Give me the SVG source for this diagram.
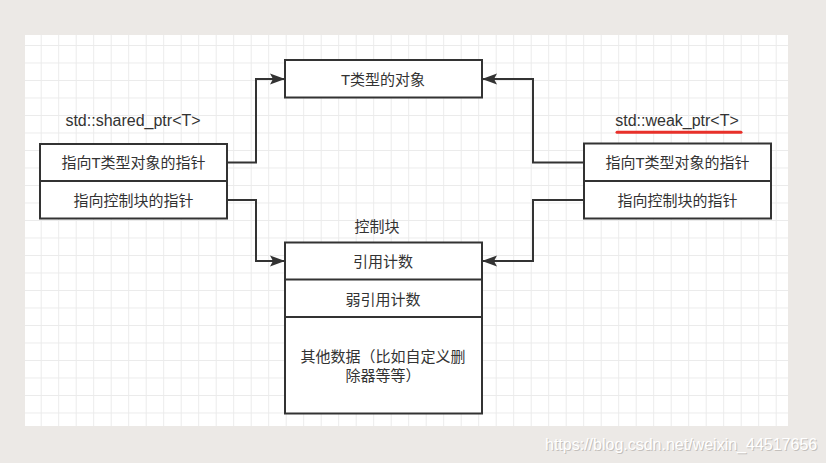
<svg xmlns="http://www.w3.org/2000/svg" width="826" height="463" viewBox="0 0 826 463">
<style>
.box{fill:#ffffff;stroke:#333333;stroke-width:2}
.div{stroke:#333333;stroke-width:2;fill:none}
.conn{fill:none;stroke:#333333;stroke-width:2}
.t{font-family:"Liberation Sans","Noto Sans CJK SC",sans-serif;font-size:15px;fill:#333333;text-anchor:middle}
.lbl{font-size:16px}
.wm{font-family:"Liberation Sans","Noto Sans",sans-serif;font-size:16px}
</style>
<defs>
<pattern id="grid" patternUnits="userSpaceOnUse" x="40.7" y="45" width="17.5" height="17.5">
<path d="M0.5,0 V17.5 M0,0.5 H17.5" stroke="#ebebeb" stroke-width="1" fill="none"/>
</pattern>
<marker id="arr" markerUnits="userSpaceOnUse" markerWidth="16" markerHeight="12" refX="15" refY="6" orient="auto">
<path d="M0,0.5 L15,6 L0,11.5 L3,6 Z" fill="#333333"/>
</marker>
</defs>
<rect x="0" y="0" width="826" height="463" fill="#ece9e6"/>
<rect x="25" y="35" width="763" height="391" fill="#ffffff"/>
<rect x="25" y="35" width="763" height="391" fill="url(#grid)"/>

<g id="connectors">
<path class="conn" d="M227,162.5 H256 V79 H285" marker-end="url(#arr)"/>
<path class="conn" d="M227,200 H256 V261 H285" marker-end="url(#arr)"/>
<path class="conn" d="M584,162.5 H533 V79 H482" marker-end="url(#arr)"/>
<path class="conn" d="M584,200 H533 V261 H482" marker-end="url(#arr)"/>
</g>

<g id="t-object">
<rect class="box" x="285" y="60" width="197" height="37.5"/>
<text class="t" x="383" y="84.5">T类型的对象</text>
</g>

<g id="shared-ptr">
<text class="t lbl" x="133" y="126">std::shared_ptr&lt;T&gt;</text>
<rect class="box" x="40" y="144" width="187" height="74.5"/>
<path class="div" d="M40,181 H227"/>
<text class="t" x="133.5" y="168">指向T类型对象的指针</text>
<text class="t" x="133.5" y="205.5">指向控制块的指针</text>
</g>

<g id="weak-ptr">
<text class="t lbl" x="677" y="126">std::weak_ptr&lt;T&gt;</text>
<path d="M617,132.3 L741,132.3" stroke="#e8302a" stroke-width="3" stroke-linecap="round" fill="none"/>
<rect class="box" x="584" y="143.5" width="187" height="75"/>
<path class="div" d="M584,181 H771"/>
<text class="t" x="677.5" y="168">指向T类型对象的指针</text>
<text class="t" x="677.5" y="205.5">指向控制块的指针</text>
</g>

<g id="control-block">
<text class="t" x="377" y="232">控制块</text>
<rect class="box" x="285" y="242.5" width="197" height="171"/>
<path class="div" d="M285,279.5 H482 M285,317 H482"/>
<text class="t" x="383" y="267">引用计数</text>
<text class="t" x="383" y="305">弱引用计数</text>
<text class="t" x="383" y="362">其他数据（比如自定义删</text>
<text class="t" x="383" y="380.5">除器等等）</text>
</g>

<g id="watermark">
<text class="wm" x="546" y="451" fill="#c4c0bc">https://blog.csdn.net/weixin_44517656</text>
<text class="wm" x="545" y="450" fill="#ffffff">https://blog.csdn.net/weixin_44517656</text>
</g>
</svg>
